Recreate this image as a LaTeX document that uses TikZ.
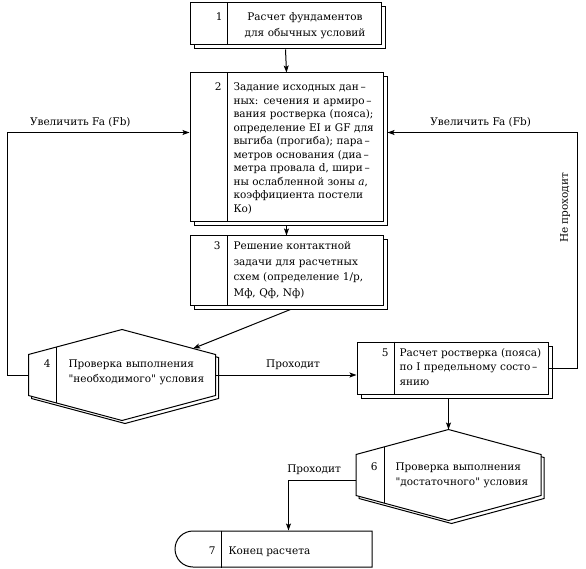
\documentclass[tikz,border=0pt]{standalone}
\usepackage{fontspec}
\setmainfont{DejaVu Serif}
\usetikzlibrary{arrows.meta,calc,shadows,shapes.misc}
\newcommand{\jl}[1]{\makebox[\linewidth][s]{#1}}

\begin{document}
\begin{tikzpicture}[
  x=1pt, y=-1pt,
  font=\fontsize{10.5}{14}\selectfont,
  >={Stealth[length=7pt,width=5pt,inset=1.5pt]},
  line width=1pt,
  blk/.style={draw,fill=white,inner sep=0pt,
              copy shadow={shadow xshift=4pt,shadow yshift=-4pt,draw=black,fill=white}},
  hexnode/.style={inner sep=0pt,minimum width=186pt,minimum height=90pt},
  hexa/.style={draw,fill=white,
               copy shadow={shadow xshift=3pt,shadow yshift=-3pt,draw=black,fill=white}},
  endnode/.style={rounded rectangle,rounded rectangle right arc=none,draw,fill=white,inner sep=0pt},
  num/.style={inner sep=0pt,anchor=base east},
  txt/.style={inner sep=0pt,anchor=base west,align=left},
  lbl/.style={inner sep=5pt},
  flow/.style={->,line width=1pt},
]
\useasboundingbox (0,0) rectangle (586,569);

%% ---------------------------------------------------------------- blocks
\node[blk,minimum width=191pt,minimum height=42pt]  (b1) at (285.5,24)    {};
\node[blk,minimum width=193pt,minimum height=149pt] (b2) at (286.5,147.5) {};
\node[blk,minimum width=193pt,minimum height=69pt]  (b3) at (286.5,270.5) {};
\node[blk,minimum width=191pt,minimum height=52pt]  (b5) at (452.5,368)   {};
\foreach \b in {b1,b2,b3,b5}{
  \draw ([xshift=38pt]\b.north west) -- ([xshift=38pt]\b.south west);
}

%% ------------------------------------------------------------- decisions
\node[hexnode] (n4) at (122,375) {};
\node[hexnode,minimum width=184pt] (n6) at (448.5,475) {};
\foreach \h in {n4,n6}{
  \draw[hexa] (\h.north) -- ([yshift=-25pt]\h.north east) -- ([yshift=25pt]\h.south east)
    -- (\h.south) -- ([yshift=25pt]\h.south west) -- ([yshift=-25pt]\h.north west) -- cycle;
  \draw ([xshift=28pt,yshift=-17.5pt]\h.north west) -- ([xshift=28pt,yshift=17.5pt]\h.south west);
}

%% ------------------------------------------------------------------- end
\node[endnode,minimum width=197pt,minimum height=36pt] (n7) at (273.5,549) {};
\draw ([xshift=-52pt]n7.north) -- ([xshift=-52pt]n7.south);

%% ----------------------------------------------------------------- texts
\node[num] (k1) at (223,21) {1};
\node[txt,anchor=base,text width=140pt,align=center,font=\fontsize{10.5}{16}\selectfont]
  (t1) at (305,21) {Расчет фундаментов\\для обычных условий};

\node[num] (k2) at (222,91) {2};
\node[txt,text width=146pt,font=\fontsize{10.5}{13.5}\selectfont] (t2) at (233,91)
  {\jl{Задание исходных дан\,–}\\
   \jl{ных: сечения и армиро\,–}\\
   \jl{вания ростверка (пояса);}\\
   \jl{определение EI и GF для}\\
   \jl{выгиба (прогиба); пара\,–}\\
   \jl{метров основания (диа\,–}\\
   \jl{метра провала d, шири\,–}\\
   ны ослабленной зоны \textit{a},\\
   коэффициента постели\\
   Ко)};

\node[num] (k3) at (221,250) {3};
\node[txt,text width=145pt,font=\fontsize{10.5}{15.5}\selectfont] (t3) at (233,250)
  {\jl{Решение контактной}\\
   \jl{задачи для расчетных}\\
   \jl{схем (определение 1/р,}\\
   Мф, Qф, Nф)};

\node[num] (k4) at (51,367) {4};
\node[txt,text width=145pt,font=\fontsize{10.5}{15}\selectfont] (t4) at (68,367)
  {Проверка выполнения\\\textquotedbl необходимого\textquotedbl{} условия};

\node[num] (k5) at (389,356) {5};
\node[txt,text width=144pt,font=\fontsize{10.5}{14.5}\selectfont] (t5) at (399,356)
  {\jl{Расчет ростверка (пояса)}\\
   \jl{по I предельному состо\,–}\\
   янию};

\node[num] (k6) at (378,470) {6};
\node[txt,text width=140pt,font=\fontsize{10.5}{15.5}\selectfont] (t6) at (395,470)
  {Проверка выполнения\\\textquotedbl достаточного\textquotedbl{} условия};

\node[num] (k7) at (216,554) {7};
\node[txt] (t7) at (228,554) {Конец расчета};

%% ------------------------------------------------------------ connectors
\draw[flow] ([yshift=-4pt]b1.south) -- (b2.north);
\draw[flow] ([yshift=-4pt]b2.south) -- (b3.north);
\draw[flow] ([xshift=4pt,yshift=-4pt]b3.south)
  -- ($(n4.north)!.76!([yshift=-25pt]n4.north east)$);
\draw[flow] (n4.west) -- ++(-21,0)
  |- node[lbl,above,pos=.7] {Увеличить Fa (Fb)} ([yshift=15pt]b2.west);
\draw[flow] (n4.east) -- node[lbl,above,pos=.55] {Проходит} (n4.east -| b5.west);
\draw[flow] (b5.east) -- ++(29,0)
  |- node[lbl,above,rotate=90,pos=.34,inner sep=7pt] {Не проходит}
     node[lbl,above,pos=.755] {Увеличить Fa (Fb)} ([xshift=4pt,yshift=15pt]b2.east);
\draw[flow] ($(n6.north |- b5.south)+(0,4)$) -- (n6.north);
\draw[flow] ([yshift=-5pt]n6.west)
  -| node[lbl,above,pos=.31] {Проходит} ([xshift=15pt]n7.north);

\end{tikzpicture}
\end{document}
